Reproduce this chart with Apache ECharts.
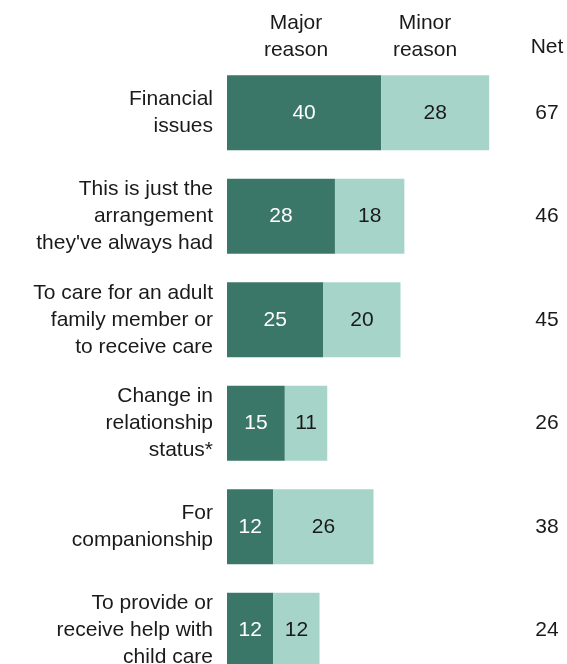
<!DOCTYPE html>
<html>
<head>
<meta charset="utf-8">
<script src="https://cdn.jsdelivr.net/npm/echarts@6/dist/echarts.min.js"></script>
<style>
  html, body { margin: 0; padding: 0; background: #ffffff; overflow: hidden; }
  /* the last row runs past the bottom edge of the window */
  #chart { width: 567px; height: 682px; }
</style>
</head>
<body>
<div id="chart"></div>
<script>
// Reasons for living arrangement, share saying each is a major / minor reason
const categories = [
  'Financial\nissues',
  'This is just the\narrangement\nthey\'ve always had',
  'To care for an adult\nfamily member or\nto receive care',
  'Change in\nrelationship\nstatus*',
  'For\ncompanionship',
  'To provide or\nreceive help with\nchild care'
];
const majorReason = [40, 28, 25, 15, 12, 12];
const minorReason = [28, 18, 20, 11, 26, 12];
const netValues = [67, 46, 45, 26, 38, 24];
const seriesNames = ['Major\nreason', 'Minor\nreason'];
const netHeader = 'Net';

const FONT = '"Liberation Sans", Arial, sans-serif';
const TEXT = '#1a1a1a';
const DARK = '#3b7768';
const LIGHT = '#a6d4c8';

const chart = echarts.init(document.getElementById('chart'), null, { renderer: 'canvas' });

chart.setOption({
  animation: false,
  backgroundColor: '#ffffff',
  textStyle: { fontFamily: FONT },
  grid: { left: 227, top: 61, right: 20, bottom: 0, containLabel: false },
  xAxis: {
    type: 'value', min: 0, max: 83,
    show: false
  },
  yAxis: [
    {
      type: 'category', data: categories, inverse: true,
      axisLine: { show: false }, axisTick: { show: false }, splitLine: { show: false },
      axisLabel: {
        margin: 14, fontSize: 21, lineHeight: 27, color: TEXT,
        fontFamily: FONT, align: 'right'
      }
    },
    {
      type: 'category', data: netValues.map(String), inverse: true, position: 'right',
      axisLine: { show: false }, axisTick: { show: false }, splitLine: { show: false },
      axisLabel: { margin: 0, fontSize: 21, color: TEXT, fontFamily: FONT, align: 'center' }
    }
  ],
  graphic: [
    { type: 'text', x: 296, y: 10, style: { text: seriesNames[0], font: '21px ' + FONT, fill: TEXT, align: 'center', lineHeight: 27 } },
    { type: 'text', x: 425, y: 10, style: { text: seriesNames[1], font: '21px ' + FONT, fill: TEXT, align: 'center', lineHeight: 27 } },
    { type: 'text', x: 547, y: 37, style: { text: netHeader, font: '21px ' + FONT, fill: TEXT, align: 'center' } }
  ],
  series: [
    {
      name: 'Major reason', type: 'bar', stack: 'total', data: majorReason,
      barWidth: 75, itemStyle: { color: DARK },
      label: { show: true, position: 'inside', color: '#ffffff', fontSize: 21, fontFamily: FONT }
    },
    {
      name: 'Minor reason', type: 'bar', stack: 'total', data: minorReason,
      barWidth: 75, itemStyle: { color: LIGHT },
      label: { show: true, position: 'inside', color: TEXT, fontSize: 21, fontFamily: FONT }
    }
  ]
});
</script>
</body>
</html>
